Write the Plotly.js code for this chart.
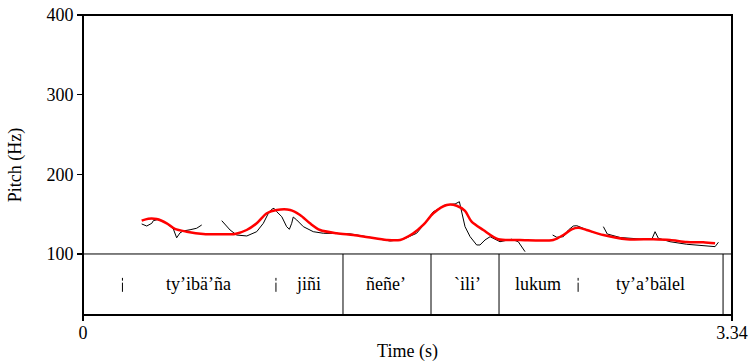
<!DOCTYPE html>
<html>
<head>
<meta charset="utf-8">
<script src="https://cdn.plot.ly/plotly-3.0.1.min.js"></script>
<style>html,body{margin:0;padding:0;background:#fff;}#chart{width:751px;height:364px;}</style>
</head>
<body>
<div id="chart"></div>
<script>
// Stylized pitch (red)
const redT  = [0.302,0.336,0.379,0.431,0.473,0.534,0.619,0.705,0.782,0.842,0.894,0.946,0.997,1.066,1.117,1.168,1.220,1.306,1.391,1.468,1.563,1.632,1.700,1.751,1.803,1.872,1.923,1.966,2.000,2.060,2.137,2.249,2.420,2.472,2.515,2.549,2.592,2.678,2.798,2.935,3.021,3.107,3.192,3.253];
const redHz = [141.8,144.3,143.9,138.5,131.4,128.0,125.1,124.7,125.1,130.1,138.5,151.1,155.2,155.2,149.0,138.5,130.1,126.0,123.8,121.0,117.6,117.6,126.0,136.4,151.1,161.5,160.6,154.0,140.5,130.1,118.5,117.6,117.6,123.8,131.0,133.0,130.1,123.8,118.5,118.5,117.6,115.1,114.7,113.4];

// Raw pitch (black), segments separated by null
const rawT  = [0.302,0.328,0.354,0.362,0.386,0.431,0.465,0.482,0.499,0.516,0.551,0.585,0.611,null,
               0.714,0.757,0.791,0.843,0.894,0.928,0.954,0.971,0.983,0.997,1.023,1.048,1.062,1.074,1.082,1.100,1.134,1.185,1.237,1.323,1.374,1.426,1.503,1.580,1.648,1.717,1.760,1.801,1.863,1.915,1.937,1.949,1.966,1.992,2.026,2.043,2.069,2.095,2.146,2.206,2.240,2.275,null,
               2.417,2.438,2.472,2.498,2.523,2.541,2.558,2.592,2.620,null,
               2.678,2.698,2.764,2.867,2.928,2.944,2.961,3.021,3.107,3.192,3.253,3.270];
const rawHz = [137.7,135.1,138.5,141.8,143.3,138.3,131.4,120.3,126.4,128.9,130.4,132.3,136.4,null,
               141.8,130.1,123.8,122.6,128.0,138.5,151.1,156.1,157.4,153.1,146.8,134.3,131.0,138.5,146.4,142.7,134.3,128.0,126.0,125.7,125.3,123.2,120.1,116.3,118.5,126.0,138.5,152.7,161.5,162.8,165.6,151.1,134.3,121.8,111.3,111.3,117.6,121.7,115.4,118.5,115.4,102.9,null,
               123.8,121.0,121.7,130.1,135.1,135.5,133.9,130.1,127.6,null,
               134.3,125.1,120.7,118.8,118.8,128.0,119.7,115.4,112.2,110.4,109.2,114.7];

// Text tier
const boundaries = [1.338, 1.791, 2.141, 3.294];
const labelText = ["ty’ibä’ña", "jiñi", "ñeñe’", "`ili’", "lukum", "ty’a’bälel"];
const labelT    = [0.593, 1.158, 1.559, 1.977, 2.342, 2.918];
const markT     = [0.203, 0.993, 2.548];

const yTicks = [100, 200, 300, 400];
const xTickVals = [0, 3.34];
const xTickText = ["0", "3.34"];

const yBottom = 23.4, yTier = 100, yTop = 400, tierTextY = 62;
const FONT = "'Liberation Serif', 'Times New Roman', serif";

const shapes = [
  {type:'line', xref:'paper', yref:'y', x0:0, x1:1, y0:yTier, y1:yTier, line:{color:'#000', width:1}},
  {type:'rect', xref:'paper', yref:'paper', x0:0, x1:1, y0:0, y1:1, line:{color:'#000', width:2}}
];
boundaries.forEach(b => shapes.push({type:'line', xref:'x', yref:'y', x0:b, x1:b, y0:yBottom, y1:yTier, line:{color:'#000', width:1}}));
// short broken-bar marks in the tier
markT.forEach(m => {
  shapes.push({type:'line', xref:'x', yref:'y', x0:m, x1:m, y0:70, y1:66.5, line:{color:'#000', width:1}});
  shapes.push({type:'line', xref:'x', yref:'y', x0:m, x1:m, y0:64, y1:52.5, line:{color:'#000', width:1}});
});

const annotations = [];
labelText.forEach((t,i) => annotations.push({x:labelT[i], y:tierTextY, xref:'x', yref:'y', text:t, showarrow:false, font:{family:FONT, size:18, color:'#000'}, xanchor:'center', yanchor:'middle'}));

const traces = [
  {x: rawT, y: rawHz, type:'scatter', mode:'lines', line:{color:'#000', width:1}, connectgaps:false, hoverinfo:'skip'},
  {x: redT, y: redHz, type:'scatter', mode:'lines', line:{color:'#ff0000', width:2.5, shape:'spline', smoothing:0.8}, hoverinfo:'skip'}
];

const layout = {
  width: 751, height: 364,
  margin: {l:83, r:19, t:15, b:49, pad:0},
  paper_bgcolor:'#fff', plot_bgcolor:'#fff',
  showlegend:false,
  font:{family:FONT, size:18, color:'#000'},
  xaxis:{range:[0,3.34], tickvals:xTickVals, ticktext:xTickText, ticks:'outside', ticklen:5, tickwidth:1.5, tickcolor:'#000',
         tickfont:{family:FONT, size:18, color:'#000'}, ticklabelstandoff:-4,
         showgrid:false, zeroline:false, showline:false, fixedrange:true,
         title:{text:'Time (s)', font:{family:FONT, size:18}, standoff:2}},
  yaxis:{range:[yBottom, yTop], tickvals:yTicks, ticks:'outside', ticklen:5, tickwidth:1.5, tickcolor:'#000',
         tickfont:{family:FONT, size:18, color:'#000'},
         showgrid:false, zeroline:false, showline:false, fixedrange:true,
         title:{text:'Pitch (Hz)', font:{family:FONT, size:18}, standoff:20}},
  shapes: shapes,
  annotations: annotations
};

Plotly.newPlot('chart', traces, layout, {displayModeBar:false, staticPlot:true});
</script>
</body>
</html>
